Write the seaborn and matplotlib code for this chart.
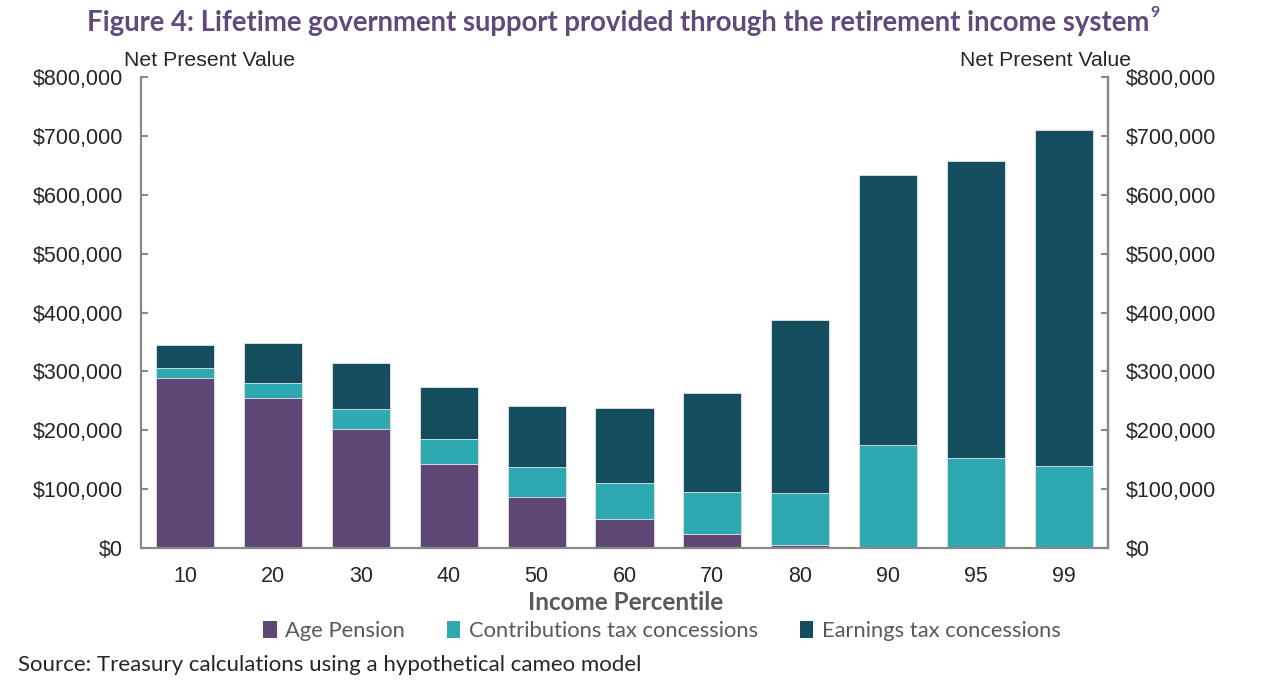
import numpy as np
import pandas as pd
import seaborn as sns
import matplotlib.pyplot as plt
from matplotlib.patches import Patch
from matplotlib.ticker import FuncFormatter, FixedLocator

# -------------------- Data ($) --------------------
percentiles = ["10", "20", "30", "40", "50", "60", "70", "80", "90", "95", "99"]
age_pension = [289000, 255000, 202000, 143000, 87000, 50000, 24000, 4500, 0, 0, 0]
contrib_tax = [17000, 26000, 34000, 42000, 51000, 60000, 71000, 88500, 175000, 153000, 140000]
earnings_tax = [39000, 67000, 78000, 88000, 103000, 128000, 168000, 295000, 459000, 504000, 570000]

series_names = ["Age Pension", "Contributions tax concessions", "Earnings tax concessions"]
colors = ["#5E4775", "#2EA9B2", "#144E5E"]

# cumulative tops so that seaborn can draw stacked bars by overlapping
df = pd.DataFrame({
    "pct": percentiles,
    "ap": age_pension,
    "ct": contrib_tax,
    "et": earnings_tax,
})
df["top_ct"] = df["ap"] + df["ct"]
df["top_et"] = df["top_ct"] + df["et"]

sns.set_style("white")
plt.rcParams["font.family"] = ["Liberation Sans", "DejaVu Sans"]

fig = plt.figure(figsize=(12.62, 6.96), dpi=100)
ax = fig.add_axes([0.1117, 0.2126, 0.7663, 0.6768])

axis_grey = "#898989"
for col, c in zip(["top_et", "top_ct", "ap"], colors[::-1]):
    sns.barplot(data=df, x="pct", y=col, order=percentiles, color=c,
                width=0.66, saturation=1, edgecolor="#E6E6E6", linewidth=0.6, ax=ax)

ymax = 800000
ax.set_ylim(0, ymax)
ax.set_xlim(-0.5, len(percentiles) - 0.5)
yticks = np.arange(0, ymax + 1, 100000)
ax.set_yticks(yticks)
money = FuncFormatter(lambda v, p: f"${v:,.0f}")
ax.yaxis.set_major_formatter(money)
ax.set_xlabel("")
ax.set_ylabel("")

# x: labels at centers, tick marks between categories
ax.tick_params(axis="x", which="major", length=0, labelsize=15.5, pad=13)
ax.xaxis.set_minor_locator(FixedLocator(np.arange(0.5, len(percentiles) - 1, 1)))
ax.tick_params(axis="x", which="minor", direction="in", length=5, width=1.5, color=axis_grey)
ax.tick_params(axis="y", direction="in", length=5, width=1.5, color=axis_grey, labelsize=15.5, pad=13)

for side in ["left", "bottom", "right"]:
    ax.spines[side].set_visible(True)
    ax.spines[side].set_color(axis_grey)
    ax.spines[side].set_linewidth(1.6)
ax.spines["top"].set_visible(False)

ax2 = ax.twinx()
ax2.set_ylim(0, ymax)
ax2.set_yticks(yticks)
ax2.yaxis.set_major_formatter(money)
ax2.tick_params(axis="y", direction="in", length=5, width=1.5, color=axis_grey, labelsize=15.5, pad=13)
for side in ["left", "top", "bottom"]:
    ax2.spines[side].set_visible(False)
ax2.spines["right"].set_color(axis_grey)
ax2.spines["right"].set_linewidth(1.6)

# axis captions
fig.text(124 / 1262, 1 - 60 / 696, "Net Present Value", fontsize=15.3, va="center", ha="left")
fig.text(1131 / 1262, 1 - 60 / 696, "Net Present Value", fontsize=15.3, va="center", ha="right")

body_font = ["Lato", "DejaVu Sans"]
fig.text(626 / 1262, 1 - 602 / 696, "Income Percentile", fontsize=17.5, fontweight="bold",
         color="#595959", ha="center", va="center", family=body_font)

# title with superscript footnote marker
title_color = "#604A7B"
title = fig.text(618 / 1262, 1 - 23 / 696,
                 "Figure 4: Lifetime government support provided through the retirement income system",
                 fontsize=19.8, fontweight="bold", color=title_color, ha="center", va="center",
                 family=body_font)
fig.canvas.draw()
bb = title.get_window_extent()
fig.text(bb.x1 / fig.bbox.width + 0.001, 1 - 13 / 696, "9", fontsize=11.5, fontweight="bold",
         color=title_color, ha="left", va="center", family=body_font)

# legend
handles = [Patch(facecolor=c, edgecolor="none") for c in colors]
fig.legend(handles, series_names, loc="center", bbox_to_anchor=(662 / 1262, 1 - 631 / 696),
           ncol=3, frameon=False, handlelength=0.6, handleheight=0.8, handletextpad=0.4,
           columnspacing=1.9, prop={"family": body_font, "size": 15.8}, labelcolor="#595959")

fig.text(18 / 1262, 1 - 665 / 696, "Source: Treasury calculations using a hypothetical cameo model",
         fontsize=16, ha="left", va="center", family=body_font)

fig.savefig("out.png", dpi=100)
